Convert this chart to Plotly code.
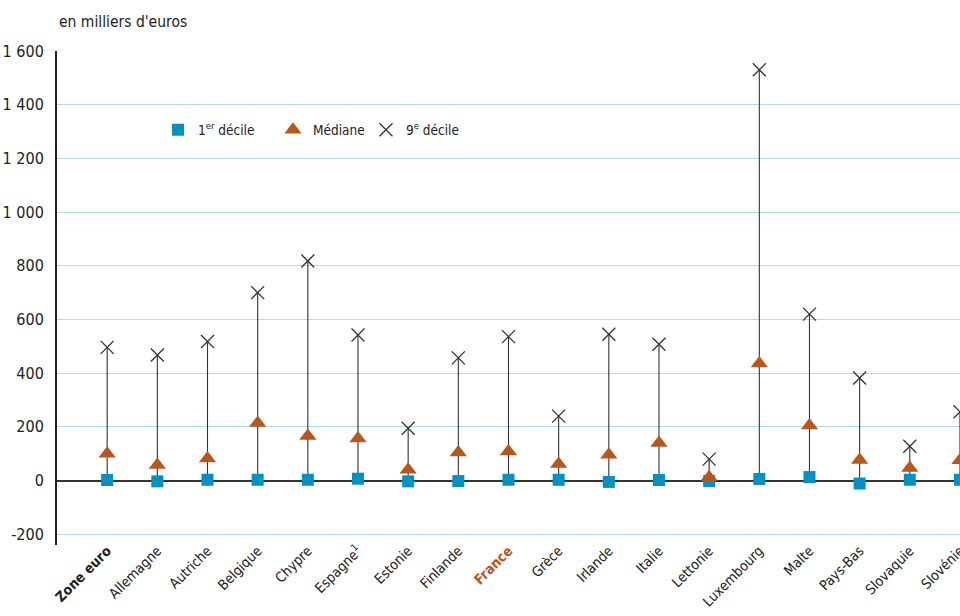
import plotly.graph_objects as go

categories = ["Zone euro", "Allemagne", "Autriche", "Belgique", "Chypre", "Espagne", "Estonie",
              "Finlande", "France", "Grèce", "Irlande", "Italie", "Lettonie", "Luxembourg",
              "Malte", "Pays-Bas", "Slovaquie", "Slovénie"]
tick_labels = ["<b>Zone euro</b>", "Allemagne", "Autriche", "Belgique", "Chypre", "Espagne<sup>1</sup>",
               "Estonie", "Finlande", "<b><span style='color:#b8561b'>France</span></b>", "Grèce",
               "Irlande", "Italie", "Lettonie", "Luxembourg", "Malte", "Pays-Bas", "Slovaquie", "Slovénie"]
decile1 = [2, -3, 3, 3, 3, 7, -3, -2, 3, 3, -5, 2, -2, 6, 13, -11, 3, 3]
mediane = [100, 58, 82, 214, 166, 157, 40, 105, 108, 62, 96, 140, 12, 436, 205, 77, 47, 76]
decile9 = [496, 468, 518, 700, 818, 542, 195, 457, 536, 240, 545, 508, 80, 1530, 620, 382, 128, 256]
y_ticks = [-200, 0, 200, 400, 600, 800, 1000, 1200, 1400, 1600]
y_tick_text = ["-200", "0", "200", "400", "600", "800", "1 000", "1 200", "1 400", "1 600"]

FONT = "DejaVu Sans Condensed, Liberation Sans Narrow, Arial Narrow, Roboto, sans-serif"
BLUE = "#0092c2"
ORANGE = "#b8561b"

xs = list(range(len(categories)))
lx, ly = [], []
for i in xs:
    lx += [i, i, None]
    ly += [decile1[i], decile9[i], None]

fig = go.Figure()
fig.add_trace(go.Scatter(x=lx, y=ly, mode="lines", line=dict(color="#333333", width=1.1),
                         showlegend=False, hoverinfo="skip"))
fig.add_trace(go.Scatter(x=xs, y=decile1, mode="markers", name="1<sup>er</sup> décile", cliponaxis=False,
                         marker=dict(symbol="square", size=12, color=BLUE), legend="legend"))
fig.add_trace(go.Scatter(x=xs, y=mediane, mode="markers", name="Médiane", cliponaxis=False,
                         marker=dict(symbol="triangle-up", size=15, color=ORANGE), legend="legend2"))
fig.add_trace(go.Scatter(x=xs, y=decile9, mode="markers", name="9<sup>e</sup> décile", cliponaxis=False,
                         marker=dict(symbol="x-thin", size=13, color="#333333",
                                     line=dict(color="#333333", width=1.3)), legend="legend3"))

W, H = 960, 616
ml, mr, mt, mb = 57, 0, 51, 616 - 545
pw, ph = W - ml - mr, H - mt - mb

def px(x):
    return (x - ml) / pw

def py(y):
    return (H - mb - y) / ph

leg_common = dict(orientation="h", bgcolor="rgba(0,0,0,0)", font=dict(family=FONT, size=13.5, color="#222"),
                  xanchor="left", yanchor="middle", itemwidth=30)
fig.update_layout(
    width=W, height=H,
    margin=dict(l=ml, r=mr, t=mt, b=mb, autoexpand=False),
    paper_bgcolor="white", plot_bgcolor="white",
    font=dict(family=FONT, size=15, color="#222"),
    legend=dict(x=px(158), y=py(130), **leg_common),
    legend2=dict(x=px(273), y=py(130), **leg_common),
    legend3=dict(x=px(366), y=py(130), **leg_common),
    xaxis=dict(range=[-1, 17.0005], tickmode="array", tickvals=xs, ticktext=tick_labels,
               tickangle=-45, showgrid=False, zeroline=False, showline=False, ticks="",
               automargin=False, anchor="free", position=py(539), ticklabeloverflow="allow",
               tickfont=dict(family=FONT, size=14, color="#222")),
    yaxis=dict(range=[-240, 1600], tickmode="array", tickvals=y_ticks, ticktext=y_tick_text,
               showgrid=True, gridcolor="#b3dcf2", gridwidth=1, automargin=False,
               zeroline=True, zerolinecolor="#333333", zerolinewidth=1.6,
               showline=True, linecolor="#222", linewidth=2, ticks="", ticklabelstandoff=8,
               tickfont=dict(family=FONT, size=16, color="#222")),
    annotations=[dict(text="en milliers d'euros", xref="paper", yref="paper", x=0, y=py(22),
                      xanchor="left", yanchor="middle", showarrow=False,
                      font=dict(family=FONT, size=15.5, color="#222"))],
)
fig.write_html("out.html", config={"displayModeBar": False},
               post_script="document.body.style.margin='0px';document.body.style.overflow='hidden';")
